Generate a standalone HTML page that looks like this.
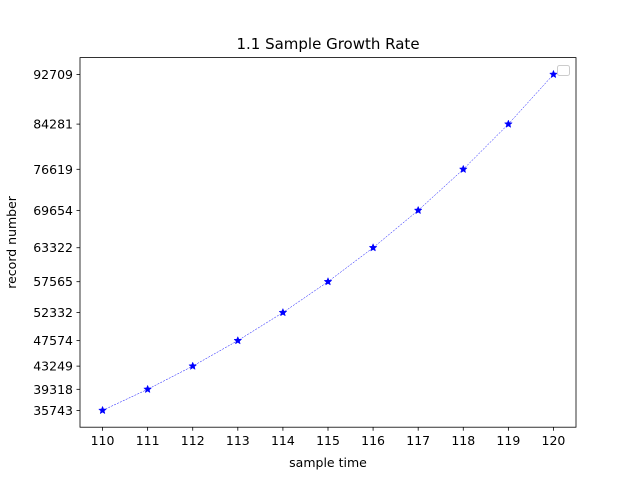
<!DOCTYPE html>
<html><head><meta charset="utf-8"><style>body{margin:0;background:#fff}svg{display:block}text{font-family:"DejaVu Sans","Liberation Sans",sans-serif;font-size:12.5px;fill:#000}</style></head>
<body>
<svg id="c" width="640" height="480">
<rect width="640" height="480" fill="#fff"/>
<text x="328" y="49" text-anchor="middle" style="font-size:15px">1.1 Sample Growth Rate</text>
<text x="328" y="467" text-anchor="middle">sample time</text>
<text transform="translate(16,242.4) rotate(-90)" text-anchor="middle">record number</text>
<g id="g"></g>
<rect x="80" y="57.6" width="496" height="369.6" fill="none" stroke="#000" stroke-width="0.8"/>
<rect x="557.5" y="65.5" width="12" height="10" rx="2" fill="#fff" stroke="#ccc"/>
</svg>
<script>
const categories=[110,111,112,113,114,115,116,117,118,119,120];
const values=[35743,39318,43249,47574,52332,57565,63322,69654,76619,84281,92709];
const yTicks=values.slice();
const NS='http://www.w3.org/2000/svg';
const g=document.getElementById('g');
const L=80,R=576,T=57.6,B=427.2;
const xmin=Math.min(...categories),xmax=Math.max(...categories),xp=(xmax-xmin)*0.05;
const ymin=Math.min(...values),ymax=Math.max(...values),yp=(ymax-ymin)*0.05;
const x=v=>L+(v-(xmin-xp))/((xmax-xmin)+2*xp)*(R-L);
const y=v=>B-(v-(ymin-yp))/((ymax-ymin)+2*yp)*(B-T);
function el(t,a){const e=document.createElementNS(NS,t);for(const k in a)e.setAttribute(k,a[k]);g.appendChild(e);return e;}
categories.forEach(c=>{
 const l=el('line',{x1:x(c),x2:x(c),y1:B,y2:B+3.5,stroke:'#000','stroke-width':0.8});
 
 
 const t=el('text',{x:x(c),y:B+18,'text-anchor':'middle'});t.textContent=c;
 
 
});
yTicks.forEach(v=>{
 const l=el('line',{x1:L-3.5,x2:L,y1:y(v),y2:y(v),stroke:'#000','stroke-width':0.8});
 
 
 const t=el('text',{x:L-7,y:y(v)+4.5,'text-anchor':'end'});t.textContent=v;
 
 
});
const p=el('polyline',{points:categories.map((c,i)=>x(c)+','+y(values[i])).join(' '),fill:'none',stroke:'#0000ff','stroke-width':0.5,'stroke-dasharray':'2,1.2'});


function star(cx,cy,r){let s=[];for(let i=0;i<10;i++){const a=-Math.PI/2+i*Math.PI/5,rr=i%2?r*0.45:r;s.push((cx+rr*Math.cos(a))+','+(cy+rr*Math.sin(a)));}return s.join(' ');}
categories.forEach((c,i)=>{
 const m=el('polygon',{points:star(x(c),y(values[i]),4),fill:'#0000ff',stroke:'#0000ff','stroke-width':0.5});
 
 
});
</script>
</body></html>
